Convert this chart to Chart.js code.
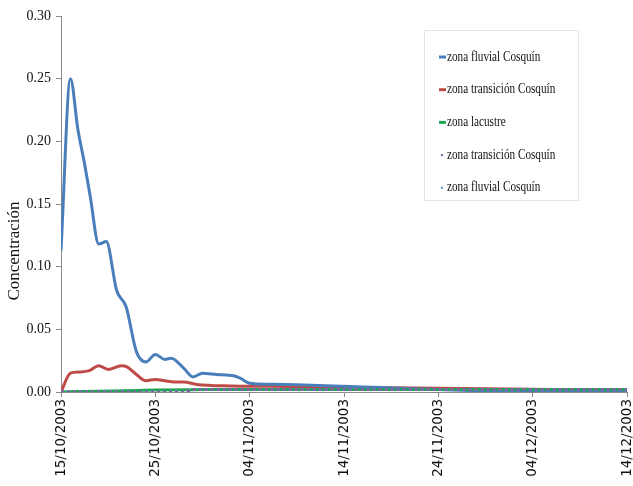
<!DOCTYPE html>
<html>
<head>
<meta charset="utf-8">
<script src="https://cdn.jsdelivr.net/npm/chart.js@4"></script>
<style>
  html, body { margin: 0; padding: 0; background: #fff; }
  #wrap { width: 633px; height: 486px; }
</style>
</head>
<body>
<div id="wrap"><canvas id="chart" width="633" height="486"></canvas></div>
<script>
// Días desde el 15/10/2003 y concentraciones
const fluvialDays = [0, 1, 1.8, 2.5, 3.1, 4, 4.8, 5.9, 6.9, 8, 9, 10, 11, 11.7, 13, 14, 15, 16.5, 18.3, 19, 20, 22, 25, 28, 32, 36, 40, 45, 50, 55, 60];
const fluvialValues = [0.113, 0.25, 0.209, 0.182, 0.156, 0.118, 0.12, 0.081, 0.068, 0.032, 0.024, 0.03, 0.026, 0.027, 0.019, 0.012, 0.015, 0.014, 0.013, 0.011, 0.007, 0.0062, 0.0057, 0.005, 0.004, 0.003, 0.002, 0.001, 0.001, 0.001, 0.001];

const transicionDays = [0, 1, 2, 3, 4, 5, 6.4, 7, 8, 9, 10, 11, 12, 13, 14.4, 18, 22, 28, 35, 45, 60];
const transicionValues = [0, 0.015, 0.016, 0.017, 0.021, 0.018, 0.021, 0.02, 0.014, 0.009, 0.01, 0.009, 0.008, 0.008, 0.006, 0.0048, 0.0045, 0.004, 0.0033, 0.0025, 0.0015];

const lacustreDays = [0, 4, 8, 10, 15, 20, 30, 45, 60];
const lacustreValues = [0, 0.0006, 0.0012, 0.0016, 0.0019, 0.002, 0.002, 0.002, 0.002];

const transicionPtsDays = [0, 13, 14, 60];
const transicionPtsValues = [0, 0, 0.0019, 0.0019];

const fluvialPtsDays = [0, 13, 14, 60];
const fluvialPtsValues = [0, 0, 0.002, 0.002];

const xTickLabels = ["15/10/2003", "25/10/2003", "04/11/2003", "14/11/2003", "24/11/2003", "04/12/2003", "14/12/2003"];
const yTitle = "Concentración";

function toPoints(days, values) {
  return days.map((d, i) => ({ x: d, y: values[i] }));
}

// Leyenda y título del eje Y dibujados a mano
const boxLegend = {
  id: "boxLegend",
  afterDatasetsDraw(chart) {
    const ctx = chart.ctx;
    const area = chart.chartArea;

    // título vertical, algo por debajo del centro del eje
    ctx.save();
    ctx.translate(area.left - 46, area.bottom - 141);
    ctx.rotate(-Math.PI / 2);
    ctx.fillStyle = "#111";
    ctx.font = "17px 'Liberation Serif'";
    ctx.textAlign = "center";
    ctx.textBaseline = "middle";
    ctx.fillText(yTitle, 0, 0);
    ctx.restore();

    const bx = area.right - 203, by = area.top + 14, bw = 154, bh = 170;
    ctx.save();
    ctx.fillStyle = "#fff";
    ctx.fillRect(bx, by, bw, bh);
    ctx.strokeStyle = "#e4e4e4";
    ctx.lineWidth = 1;
    ctx.strokeRect(bx + 0.5, by + 0.5, bw, bh);
    chart.data.datasets.forEach((ds, i) => {
      const y = by + 27 + i * 32.7;
      ctx.strokeStyle = ds.borderColor;
      if (ds.borderDash) {
        ctx.fillStyle = ds.borderColor;
        ctx.fillRect(bx + 17, y - 1, 2, 2);
      } else {
        ctx.lineWidth = 3;
        ctx.beginPath();
        ctx.moveTo(bx + 15, y);
        ctx.lineTo(bx + 22, y);
        ctx.stroke();
      }
      ctx.save();
      ctx.translate(bx + 23, y);
      ctx.scale(0.8, 1);
      ctx.fillStyle = "#111";
      ctx.font = "14px 'Liberation Serif'";
      ctx.textBaseline = "middle";
      ctx.fillText(ds.label, 0, 0);
      ctx.restore();
    });
    ctx.restore();
  }
};

window.onload = () => {
  const ctx = document.getElementById("chart").getContext("2d");
  new Chart(ctx, {
    type: "line",
    data: {
      datasets: [
        {
          label: "zona fluvial Cosquín",
          data: toPoints(fluvialDays, fluvialValues),
          borderColor: "#4a7ebb",
          borderWidth: 3,
          order: 2,
        },
        {
          label: "zona transición Cosquín",
          data: toPoints(transicionDays, transicionValues),
          borderColor: "#be4b48",
          borderWidth: 3,
          order: 3,
        },
        {
          label: "zona lacustre",
          data: toPoints(lacustreDays, lacustreValues),
          borderColor: "#1fa655",
          borderWidth: 3,
          order: 1,
        },
        {
          label: "zona transición Cosquín",
          data: toPoints(transicionPtsDays, transicionPtsValues),
          borderColor: "#7d5fa0",
          borderWidth: 3,
          borderDash: [3, 3],
          cubicInterpolationMode: "default",
          tension: 0,
          order: 0,
        },
        {
          label: "zona fluvial Cosquín",
          data: toPoints(fluvialPtsDays, fluvialPtsValues),
          borderColor: "#4bacc6",
          borderWidth: 3,
          borderDash: [3, 3],
          cubicInterpolationMode: "default",
          tension: 0,
          order: 0,
        },
      ],
    },
    options: {
      responsive: false,
      animation: false,
      elements: {
        point: { radius: 0 },
        line: { cubicInterpolationMode: "monotone", fill: false },
      },
      layout: { padding: { top: 16, right: 6, left: 7, bottom: 0 } },
      plugins: {
        legend: { display: false },
        tooltip: { enabled: false },
      },
      scales: {
        x: {
          type: "linear",
          min: 0,
          max: 60,
          afterFit: (scale) => {
            scale.height = 94;
            scale.paddingLeft = 0;
            scale.paddingRight = 0;
          },
          border: { display: true, color: "#8a8a8a" },
          grid: { drawOnChartArea: false, drawTicks: true, tickLength: 5, color: "#8a8a8a" },
          ticks: {
            stepSize: 10,
            minRotation: 90,
            maxRotation: 90,
            padding: 2,
            color: "#111",
            font: { family: "'DejaVu Sans'", size: 13.5 },
            callback: (v) => xTickLabels[Math.round(v / 10)],
          },
        },
        y: {
          min: 0,
          max: 0.3,
          afterFit: (scale) => { scale.width = 54; },
          border: { display: true, color: "#8a8a8a" },
          grid: { drawOnChartArea: false, drawTicks: true, tickLength: 5, color: "#8a8a8a" },
          ticks: {
            stepSize: 0.05,
            padding: 5,
            color: "#111",
            font: { family: "'Liberation Serif'", size: 14 },
            callback: (v) => v.toFixed(2),
          },
        },
      },
    },
    plugins: [boxLegend],
  });
};
</script>
</body>
</html>
